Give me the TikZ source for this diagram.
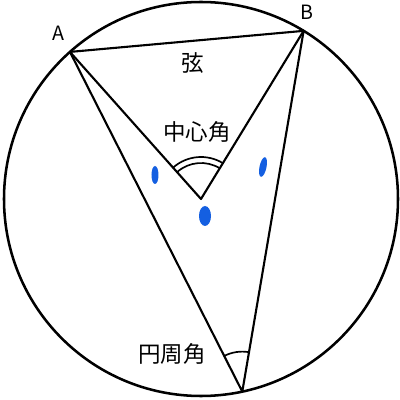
\documentclass[tikz,border=0pt]{standalone}
\usepackage{fontspec}
\newfontfamily\jpfont{Noto Sans CJK JP}
\usepackage{tikz}

\definecolor{markblue}{RGB}{20,95,225}

\begin{document}
\begin{tikzpicture}[x=0.025cm, y=0.025cm,  % one unit is one pixel of the reference
    line/.style={line width=1.5pt, line cap=round, line join=round},
    lbl/.style={font=\jpfont\fontsize{16}{16}\selectfont, inner sep=0pt},
    blob/.style={fill=markblue, draw=none}]
    \useasboundingbox (-201,-201) rectangle (199,199);

    % Centre and the three points on the circle
    \coordinate (O) at (0,0);
    \coordinate (A) at (131.7:197);
    \coordinate (B) at (58.6:197);
    \coordinate (C) at (-77.9:197);

    % Draw the circle
    \draw[line, line width=1.8pt] (O) circle[radius=197];

    % Chord, central angle and inscribed angle
    \draw[line] (A) -- (B);
    \draw[line] (A) -- (O) -- (B);
    \draw[line] (A) -- (C) -- (B);

    % Double arc at the centre
    \draw[line, line width=1.2pt] (O) ++(58.6:36) arc[start angle=58.6, end angle=131.7, radius=36];
    \draw[line, line width=1.2pt] (O) ++(58.6:42) arc[start angle=58.6, end angle=131.7, radius=42];

    % Arc at the inscribed angle
    \draw[line, line width=1.2pt] (C) ++(80.6:40) arc[start angle=80.6, end angle=116.8, radius=40];

    % Blue marks
    \fill[blob] (-46,24) ellipse[x radius=3.5, y radius=9];
    \fill[blob, rotate around={-12:(62,32)}] (62,32) ellipse[x radius=3.5, y radius=10];
    \fill[blob] (4,-17) ellipse[x radius=6, y radius=10];

    % Labels
    \node[lbl, font=\jpfont\fontsize{14}{14}\selectfont] (labA) at (-143,166) {A};
    \node[lbl, font=\jpfont\fontsize{14}{14}\selectfont] (labB) at (106,187) {B};
    \node[lbl] (chord) at (-8,136) {弦};
    \node[lbl] (central) at (-4,67) {中心角};
    \node[lbl] (inscribed) at (-29,-155) {円周角};
\end{tikzpicture}
\end{document}
